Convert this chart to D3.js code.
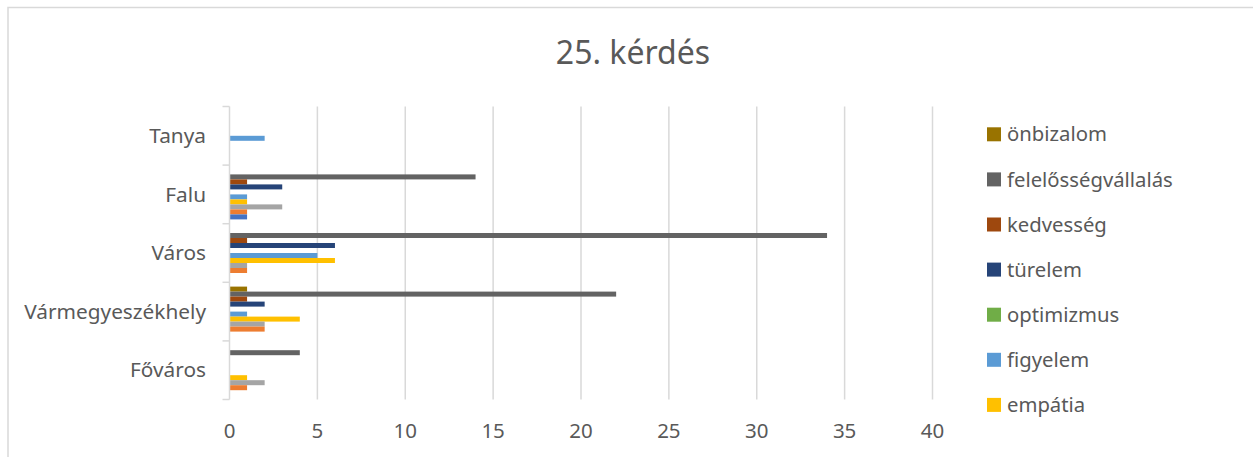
<!DOCTYPE html>
<html>
<head>
<meta charset="utf-8">
<script src="https://cdn.jsdelivr.net/npm/d3@7/dist/d3.min.js"></script>
<style>
  html, body { margin: 0; padding: 0; background: #fff; }
  svg { display: block; }
  text { font-family: "Noto Sans", "Open Sans", sans-serif; fill: #595959; }
</style>
</head>
<body>
<script>
// ---- data ----
const title = "25. kérdés";
const categories = ["Tanya", "Falu", "Város", "Vármegyeszékhely", "Főváros"];
const seriesNames = ["önbizalom", "felelősségvállalás", "kedvesség", "türelem", "optimizmus", "figyelem", "empátia", "sorozat 8", "sorozat 9", "sorozat 10"];
const legendShown = ["önbizalom", "felelősségvállalás", "kedvesség", "türelem", "optimizmus", "figyelem", "empátia"];
// values per category, in the order of `categories`
const onbizalom          = [0, 0, 0, 1, 0];
const felelossegvallalas = [0, 14, 34, 22, 4];
const kedvesseg          = [0, 1, 1, 1, 0];
const turelem            = [0, 3, 6, 2, 0];
const optimizmus         = [0, 0, 0, 0, 0];
const figyelem           = [2, 1, 5, 1, 0];
const empatia            = [0, 1, 6, 4, 1];
const sorozat8           = [0, 3, 1, 2, 2];
const sorozat9           = [0, 1, 1, 2, 1];
const sorozat10          = [0, 1, 0, 0, 0];
const xTicks = [0, 5, 10, 15, 20, 25, 30, 35, 40];
const colors = ["#997300", "#636363", "#9E480E", "#264478", "#70AD47", "#5B9BD5", "#FFC000", "#A5A5A5", "#ED7D31", "#4472C4"];

const seriesValues = [onbizalom, felelossegvallalas, kedvesseg, turelem, optimizmus, figyelem, empatia, sorozat8, sorozat9, sorozat10];

// ---- layout ----
const W = 1253, H = 457;
const svg = d3.select("body").append("svg").attr("width", W).attr("height", H);

svg.append("rect").attr("x", 8).attr("y", 7.5).attr("width", W + 10).attr("height", H + 10)
  .attr("fill", "#fff").attr("stroke", "#d9d9d9").attr("stroke-width", 1.5);

const x = d3.scaleLinear().domain([0, 40]).range([229.5, 932.5]);
const y = d3.scaleBand().domain(categories).range([106.5, 399.5]).padding(0);
const inner = d3.scaleBand().domain(seriesNames).range([0, y.bandwidth()]).paddingInner(0).paddingOuter(0.86);
const color = d3.scaleOrdinal().domain(seriesNames).range(colors);

// title
svg.append("text").attr("x", 633).attr("y", 64).attr("text-anchor", "middle")
  .style("font-size", "32px").text(title);

// gridlines
svg.append("g").selectAll("line").data(xTicks.filter(d => d > 0)).join("line")
  .attr("x1", d => x(d)).attr("x2", d => x(d))
  .attr("y1", 106.5).attr("y2", 399.5)
  .attr("stroke", "#d9d9d9").attr("stroke-width", 1.5);

// x tick labels
svg.append("g").selectAll("text").data(xTicks).join("text")
  .attr("x", d => x(d)).attr("y", 437.5).attr("text-anchor", "middle")
  .style("font-size", "20.5px").text(d => d);

// bars
const rows = [];
categories.forEach((c, ci) => {
  seriesNames.forEach((s, si) => {
    rows.push({ cat: c, ser: s, val: seriesValues[si][ci] });
  });
});
svg.append("g").selectAll("rect").data(rows.filter(r => r.val > 0)).join("rect")
  .attr("x", x(0))
  .attr("y", d => y(d.cat) + inner(d.ser))
  .attr("width", d => x(d.val) - x(0))
  .attr("height", inner.bandwidth())
  .attr("fill", d => color(d.ser));

// category axis
const ax = svg.append("g");
ax.append("line").attr("x1", x(0)).attr("x2", x(0)).attr("y1", 106.5).attr("y2", 399.5)
  .attr("stroke", "#d9d9d9").attr("stroke-width", 1.5);
const boundaries = categories.map(c => y(c)).concat([y(categories[categories.length - 1]) + y.bandwidth()]);
ax.selectAll("line.tick").data(boundaries).join("line").attr("class", "tick")
  .attr("x1", x(0) - 7).attr("x2", x(0)).attr("y1", d => d).attr("y2", d => d)
  .attr("stroke", "#d9d9d9").attr("stroke-width", 1.5);
ax.selectAll("text").data(categories).join("text")
  .attr("x", 206).attr("y", d => y(d) + y.bandwidth() / 2)
  .attr("dy", "0.35em").attr("text-anchor", "end")
  .style("font-size", "20.8px").text(d => d);

// legend
const lg = svg.append("g").selectAll("g").data(legendShown).join("g")
  .attr("transform", (d, i) => `translate(987, ${134.3 + i * 45.1})`);
lg.append("rect").attr("x", 0).attr("y", -7).attr("width", 14).attr("height", 14)
  .attr("fill", d => color(d));
lg.append("text").attr("x", 20).attr("dy", "0.35em").style("font-size", "20.3px").text(d => d);
</script>
</body>
</html>
